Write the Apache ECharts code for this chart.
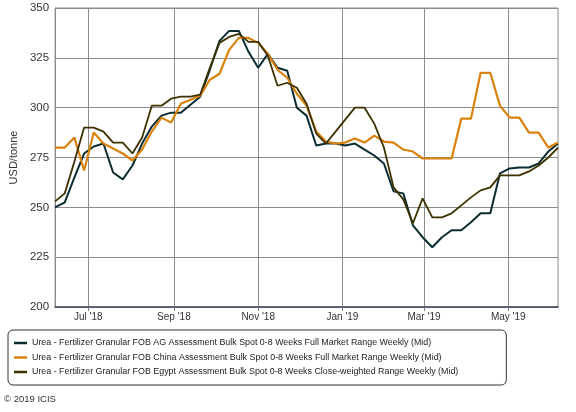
<!DOCTYPE html>
<html>
<head>
<meta charset="utf-8">
<script src="https://cdn.jsdelivr.net/npm/echarts@6/dist/echarts.min.js"></script>
<style>
html,body{margin:0;padding:0;background:#fff;}
#c{width:576px;height:412px;}
</style>
</head>
<body>
<div id="c"></div>
<script>
const weeks = ['2018-06-07','2018-06-14','2018-06-21','2018-06-28','2018-07-05','2018-07-12','2018-07-19','2018-07-26',
'2018-08-02','2018-08-09','2018-08-16','2018-08-23','2018-08-30','2018-09-06','2018-09-13','2018-09-20','2018-09-27',
'2018-10-04','2018-10-11','2018-10-18','2018-10-25','2018-11-01','2018-11-08','2018-11-15','2018-11-22','2018-11-29',
'2018-12-06','2018-12-13','2018-12-20','2018-12-27','2019-01-03','2019-01-10','2019-01-17','2019-01-24','2019-01-31',
'2019-02-07','2019-02-14','2019-02-21','2019-02-28','2019-03-07','2019-03-14','2019-03-21','2019-03-28','2019-04-04',
'2019-04-11','2019-04-18','2019-04-25','2019-05-02','2019-05-09','2019-05-16','2019-05-23','2019-05-30','2019-06-06'];

const agValues = [250,252.5,265,277,280.5,282,267.5,264,271,282,290.5,296,297.5,297.5,301.5,305.5,319,333.5,338.5,338.5,
328,320,327,320,318.5,300,296,281,282,282,281,282,279,276,272,258,257,241,235,230,235,238.5,238.5,242.5,247,247,
267,269.5,270,270,272,278,282];
const chinaValues = [280,280,285,268.5,287.5,282,279.5,277,273.5,279,288,295,292.5,302,304,306,314,317,329,335,
335,332.5,327,319,315,307,301,288,283,282,282.5,284.5,282.5,286,283,282.5,279,278,274.5,274.5,274.5,274.5,294.5,294.5,
317.5,317.5,301,295,295,287.5,287.5,280,282.5];
const egyptValues = [253,257,273,290,290,288,282.5,282.5,277,285,301,301,304.5,305.5,305.5,306.5,320,332.5,335.5,337,
333,333,326,311,312.5,310,302,287,282,288,294,300,300,292,280,260,254,242,254.5,245,245,247,251,255,258.5,260,
266,266,266,268,271,275,280];

const seriesNames = [
  'Urea - Fertilizer Granular FOB AG Assessment Bulk Spot 0-8 Weeks Full Market Range Weekly (Mid)',
  'Urea - Fertilizer Granular FOB China Assessment Bulk Spot 0-8 Weeks Full Market Range Weekly (Mid)',
  'Urea - Fertilizer Granular FOB Egypt Assessment Bulk Spot 0-8 Weeks Close-weighted Range Weekly (Mid)'
];
const monthTicks = ['2018-07-01','2018-09-01','2018-11-01','2019-01-01','2019-03-01','2019-05-01'];
const monthNames = ['Jan','Feb','Mar','Apr','May','Jun','Jul','Aug','Sep','Oct','Nov','Dec'];

function ts(s){ const p = s.split('-').map(Number); return Date.UTC(p[0], p[1]-1, p[2]); }
function pairs(vals){ return weeks.map((w,i)=>[ts(w), vals[i]]); }

const font = "'Liberation Sans', Arial, sans-serif";
const chart = echarts.init(document.getElementById('c'), null, {renderer:'canvas'});
chart.setOption({
  animation:false,
  backgroundColor:'#fff',
  grid:{left:51, right:18, top:8, bottom:105, show:true, borderColor:'#8c8c8c', borderWidth:1},
  xAxis:{
    type:'value',
    min: ts(weeks[0]), max: ts(weeks[weeks.length-1]),
    axisLine:{show:true, lineStyle:{color:'#3c4a5c', width:1.5}},
    axisTick:{show:true, length:4, lineStyle:{color:'#777'}, customValues: monthTicks.map(ts)},
    axisLabel:{customValues: monthTicks.map(ts), color:'#333', fontSize:10, fontFamily:font, margin:5,
      formatter:function(v){ const d=new Date(v); return monthNames[d.getUTCMonth()] + " '" + String(d.getUTCFullYear()).slice(2); }},
    splitLine:{show:true, lineStyle:{color:'#8c8c8c', width:1}}
  },
  yAxis:{
    type:'value', min:200, max:350, interval:25,
    name:'USD/tonne', nameLocation:'middle', nameGap:33, nameRotate:90,
    nameTextStyle:{color:'#333', fontSize:11, fontFamily:font},
    axisLine:{show:true, lineStyle:{color:'#8c8c8c'}},
    axisTick:{show:false},
    axisLabel:{color:'#333', fontSize:11.5, fontFamily:font, margin:6},
    splitLine:{show:true, lineStyle:{color:'#8c8c8c', width:1}}
  },
  legend:{
    orient:'vertical', left:8, top:330, icon:'rect', itemWidth:13, itemHeight:2.5, itemGap:4.5,
    padding:[8,48,8,6],
    borderColor:'#333', borderWidth:1, borderRadius:5,
    textStyle:{color:'#222', fontSize:8.9, fontFamily:font, lineHeight:10},
    data: seriesNames
  },
  graphic:[{type:'text', left:4, top:394, style:{text:'\u00a9 2019 ICIS', fill:'#333', font:"9.5px 'Liberation Sans', sans-serif"}}],
  series:[
    {name:seriesNames[0], type:'line', data:pairs(agValues), showSymbol:false, lineStyle:{color:'#0b2c31', width:2}, itemStyle:{color:'#0b2c31'}},
    {name:seriesNames[1], type:'line', data:pairs(chinaValues), showSymbol:false, lineStyle:{color:'#d9820b', width:2.2}, itemStyle:{color:'#d9820b'}},
    {name:seriesNames[2], type:'line', data:pairs(egyptValues), showSymbol:false, lineStyle:{color:'#3d3100', width:1.8}, itemStyle:{color:'#3d3100'}}
  ]
});
</script>
</body>
</html>
